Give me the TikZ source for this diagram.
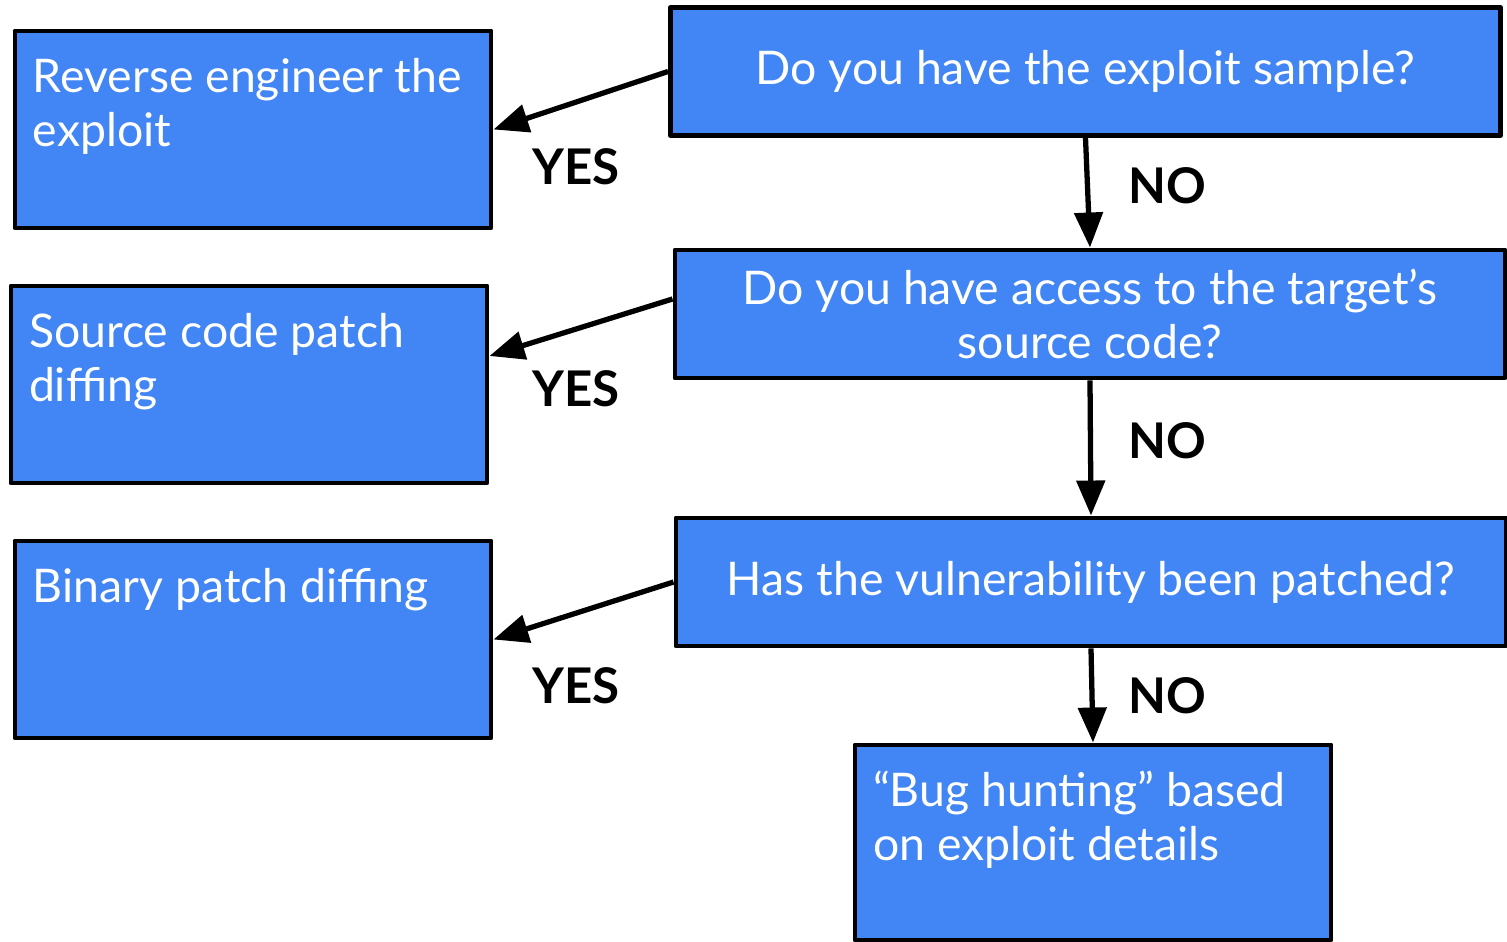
\documentclass[tikz,border=0pt]{standalone}
\usepackage{fontspec}
\setmainfont{Lato}
\usetikzlibrary{arrows.meta}
\definecolor{gblue}{HTML}{4285F4}
\tikzset{
    box/.style={rectangle, draw=black, fill=gblue, line width=1.4pt, line join=round, text=white, inner sep=0mm},
    question/.style={box, minimum width=8.3cm, minimum height=1.28cm, align=center, font=\fontsize{13.2}{15.3}\selectfont},
    answer/.style={box, minimum width=4.76cm, minimum height=1.97cm, font=\fontsize{13.2}{15.3}\selectfont},
    reply/.style={inner sep=0mm, font=\fontsize{14}{16}\selectfont\bfseries},
    arr/.style={line width=1.5pt, -{Triangle[length=3.5mm, width=2.8mm]}}
}
\newcommand{\boxtext}[1]{\parbox[c][1.42cm][t]{4.4cm}{\raggedright #1}}

\begin{document}
\begin{tikzpicture}
        \useasboundingbox (0cm, 0cm) rectangle (15.07cm, -9.42cm);
        \node (q1) [question] at (10.855cm, -0.715cm) {Do you have the exploit sample?};
        \node (q2) [question] at (10.900cm, -3.140cm) {Do you have access to the target’s\\source code?};
        \node (q3) [question] at (10.910cm, -5.820cm) {Has the vulnerability been patched?};
        \node (a1) [answer] at (2.530cm, -1.295cm) {\boxtext{Reverse engineer the\\exploit}};
        \node (a2) [answer] at (2.490cm, -3.845cm) {\boxtext{Source code patch\\diffing}};
        \node (a3) [answer] at (2.530cm, -6.395cm) {\boxtext{Binary patch diffing}};
        \node (a4) [answer, minimum height=1.95cm] at (10.930cm, -8.425cm) {\boxtext{“Bug hunting” based\\on exploit details}};
        \node (y1) [reply] at (5.760cm, -1.665cm) {YES};
        \node (y2) [reply] at (5.760cm, -3.890cm) {YES};
        \node (y3) [reply] at (5.760cm, -6.860cm) {YES};
        \node (n1) [reply] at (11.670cm, -1.860cm) {NO};
        \node (n2) [reply] at (11.670cm, -4.410cm) {NO};
        \node (n3) [reply] at (11.670cm, -6.960cm) {NO};
        \draw (q1.west) edge [arr] (a1.east);
        \draw ([yshift=0.15cm]q2.west) edge [arr] ([yshift=0.285cm]a2.east);
        \draw (q3.west) edge [arr] (a3.east);
        \draw (q1.south) edge [arr] (q2.north);
        \draw (q2.south) edge [arr] (q3.north);
        \draw (q3.south) edge [arr] (a4.north);
\end{tikzpicture}
\end{document}
